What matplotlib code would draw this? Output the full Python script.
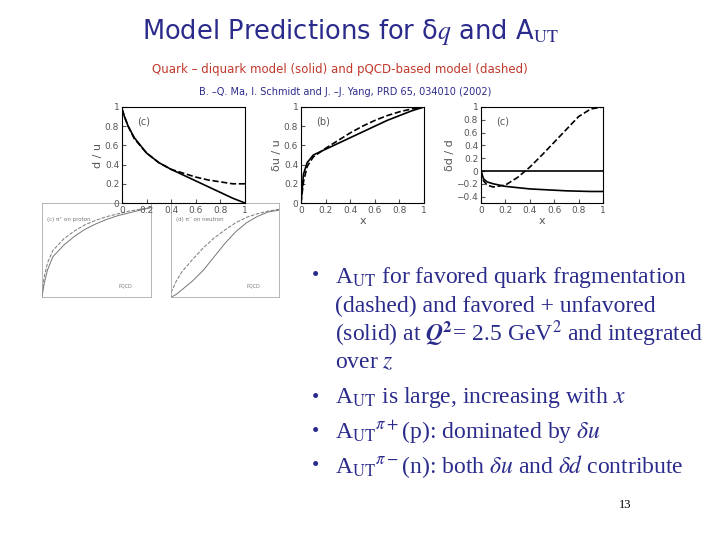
import matplotlib
matplotlib.use("Agg")
import matplotlib.pyplot as plt

x = [0.0, 0.02, 0.05, 0.1, 0.2, 0.3, 0.4, 0.5, 0.6, 0.7, 0.8, 0.9, 1.0]
du_solid = [0.98, 0.9, 0.8, 0.68, 0.52, 0.42, 0.35, 0.29, 0.23, 0.17, 0.11, 0.05, 0.0]
du_dash = [0.98, 0.9, 0.8, 0.67, 0.52, 0.42, 0.35, 0.31, 0.27, 0.24, 0.22, 0.2, 0.2]
dUu_solid = [0.0, 0.3, 0.42, 0.5, 0.56, 0.62, 0.68, 0.74, 0.8, 0.86, 0.91, 0.96, 1.0]
dUu_dash = [0.0, 0.22, 0.38, 0.48, 0.57, 0.65, 0.73, 0.8, 0.86, 0.91, 0.95, 0.98, 1.0]
dDd_solid = [0.0, -0.12, -0.17, -0.2, -0.24, -0.26, -0.28, -0.29, -0.3, -0.31, -0.315, -0.32, -0.32]
dDd_dash = [0.0, -0.15, -0.22, -0.25, -0.22, -0.1, 0.06, 0.25, 0.45, 0.65, 0.85, 0.97, 1.0]

apL_solid = [0.0, 0.15, 0.3, 0.45, 0.58, 0.68, 0.76, 0.82, 0.87, 0.91, 0.94, 0.97, 1.0]
apL_dash = [0.05, 0.22, 0.38, 0.52, 0.65, 0.74, 0.81, 0.86, 0.9, 0.93, 0.96, 0.98, 1.0]
anL_solid = [0.0, 0.01, 0.03, 0.08, 0.18, 0.3, 0.45, 0.6, 0.73, 0.83, 0.9, 0.95, 0.97]
anL_dash = [0.05, 0.1, 0.18, 0.28, 0.42, 0.55, 0.66, 0.75, 0.83, 0.89, 0.93, 0.96, 0.98]

blue = "#2b2b8c"
plt.rcParams["mathtext.fontset"] = "stix"
fig = plt.figure(figsize=(7.2, 5.4), dpi=100)
W, H = 720, 540
def ax_px(l, t, r, b):
    return fig.add_axes([l / W, 1 - b / H, (r - l) / W, (b - t) / H])

fig.text(350 / W, 1 - 32 / H, "Model Predictions for δ$\\mathit{q}$ and A$_{\\mathrm{UT}}$",
         ha="center", va="center", fontsize=18.5, color=blue, family="DejaVu Sans")
fig.text(340 / W, 1 - 70 / H, "Quark – diquark model (solid) and pQCD-based model (dashed)",
         ha="center", va="center", fontsize=8.5, color="#c0392b")
fig.text(345 / W, 1 - 92 / H, "B. –Q. Ma, I. Schmidt and J. –J. Yang, PRD 65, 034010 (2002)",
         ha="center", va="center", fontsize=7, color=blue)

for (l, r, s, d, t) in [(42, 151, apL_solid, apL_dash, "(c) π⁺ on proton"),
                        (171, 279, anL_solid, anL_dash, "(d) π⁻ on neutron")]:
    ax = ax_px(l, 203, r, 297)
    ax.plot(x, s, color="#777", lw=0.7)
    ax.plot(x, d, color="#777", lw=0.7, ls="--")
    ax.set_xlim(0, 1); ax.set_ylim(0, 1.05)
    ax.set_xticks([]); ax.set_yticks([])
    ax.text(0.05, 0.85, t, transform=ax.transAxes, fontsize=4, color="#777", va="top")
    ax.text(0.7, 0.1, "PQCD", transform=ax.transAxes, fontsize=3.5, color="#777")
    for sp in ax.spines.values():
        sp.set_color("#999"); sp.set_linewidth(0.5)

def panel(l, r, ys, yd, ylab, lab, yt, ylim):
    ax = ax_px(l, 107, r, 203)
    ax.plot(x, ys, "k-", lw=1.2)
    ax.plot(x, yd, "k--", lw=1.2)
    ax.set_xlim(0, 1); ax.set_ylim(*ylim)
    ax.set_xticks([0, 0.2, 0.4, 0.6, 0.8, 1])
    ax.set_xticklabels(["0", "0.2", "0.4", "0.6", "0.8", "1"])
    ax.set_yticks(yt)
    ax.set_yticklabels([("%g" % v).replace("-", "−") for v in yt])
    ax.tick_params(labelsize=6.5, colors="#555", direction="in", length=3, pad=2)
    ax.set_ylabel(ylab, fontsize=8, color="#555", labelpad=1)
    ax.text(0.12, 0.9, lab, transform=ax.transAxes, fontsize=7, color="#555", va="top")
    return ax

panel(122, 245, du_solid, du_dash, "d / u", "(c)", [0, 0.2, 0.4, 0.6, 0.8, 1], (0, 1))
a2 = panel(301, 424, dUu_solid, dUu_dash, "δu / u", "(b)", [0, 0.2, 0.4, 0.6, 0.8, 1], (0, 1))
a2.set_xlabel("x", fontsize=8, color="#555", labelpad=1)
a3 = panel(481, 603, dDd_solid, dDd_dash, "δd / d", "(c)",
           [-0.4, -0.2, 0, 0.2, 0.4, 0.6, 0.8, 1], (-0.5, 1))
a3.axhline(0, color="k", lw=1.2)
a3.set_xlabel("x", fontsize=8, color="#555", labelpad=1)

tf = "Liberation Serif"
bul = [(277, r"A$_{\mathrm{UT}}$ for favored quark fragmentation", True),
       (306, "(dashed) and favored + unfavored", False),
       (334, r"(solid) at $\boldsymbol{Q}^{\mathbf{2}}$= 2.5 GeV$^2$ and integrated", False),
       (363, r"over $z$", False),
       (398, r"A$_{\mathrm{UT}}$ is large, increasing with $x$", True),
       (432, r"A$_{\mathrm{UT}}$$^{\pi+}$(p): dominated by $\delta u$", True),
       (467, r"A$_{\mathrm{UT}}$$^{\pi-}$(n): both $\delta u$ and $\delta d$ contribute", True)]
for y, t, b in bul:
    if b:
        fig.text(312 / W, 1 - y / H, "•", fontsize=15, color=blue, va="center", family=tf)
    fig.text(335 / W, 1 - y / H, t, fontsize=17, color=blue, va="center", family=tf)
fig.text(625 / W, 1 - 505 / H, "13", fontsize=9, color="k", ha="center", va="center", family=tf)

fig.savefig("out.png", dpi=100)
